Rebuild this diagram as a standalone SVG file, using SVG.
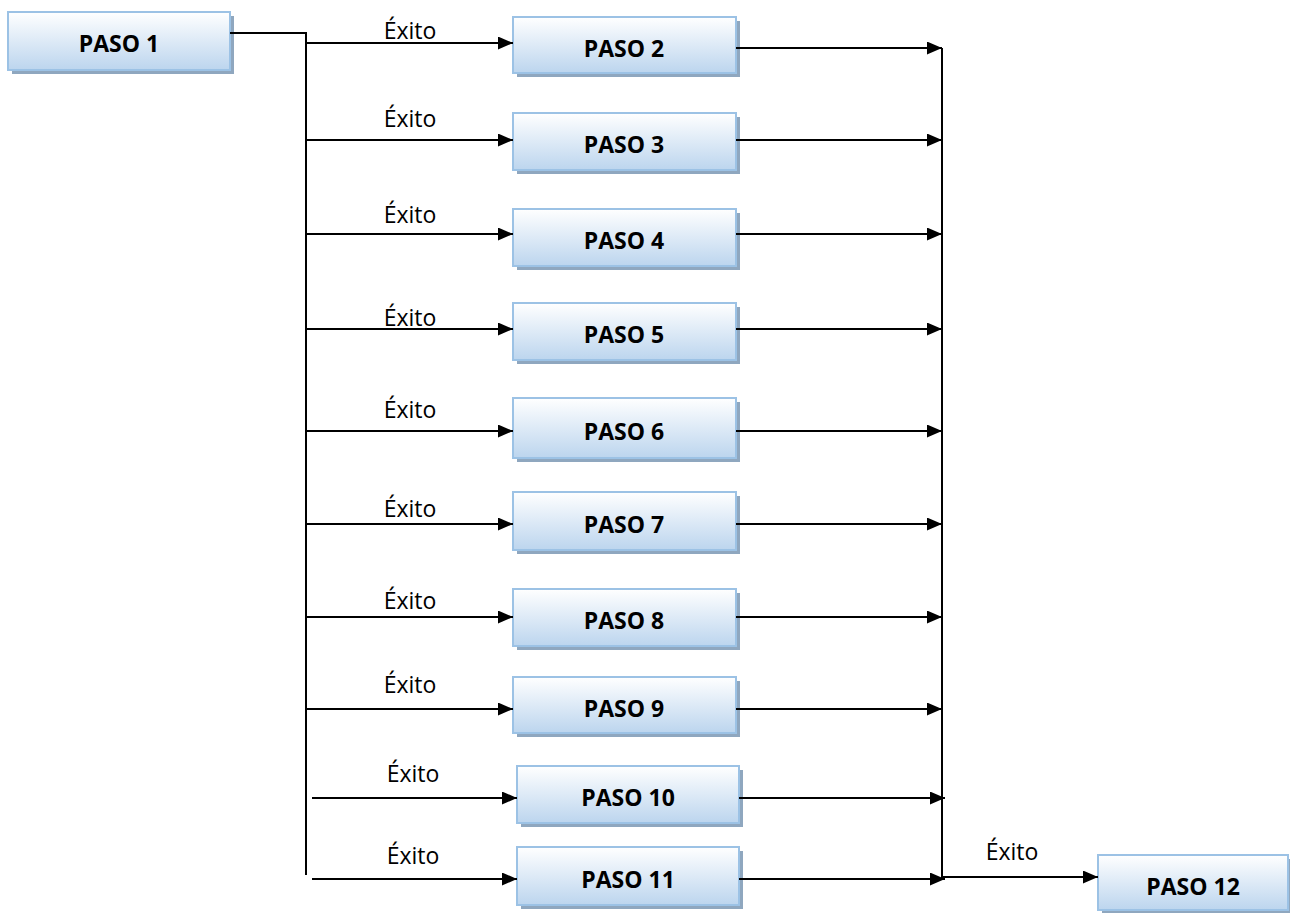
<svg xmlns="http://www.w3.org/2000/svg" width="1290" height="913" viewBox="0 0 1290 913">
<defs>
<linearGradient id="g" x1="0" y1="0" x2="0" y2="1">
<stop offset="0" stop-color="#ffffff"/>
<stop offset="1" stop-color="#bcd5ee"/>
</linearGradient>
<marker id="ah" markerWidth="15" markerHeight="13" refX="15" refY="6.5" orient="auto" markerUnits="userSpaceOnUse">
<path d="M0,0 L15,6.5 L0,13 Z" fill="#000"/>
</marker>
</defs>
<style>
.sh{fill:#8fa7bf}
.bx{fill:url(#g);stroke:#9cc2e5;stroke-width:2}
.t{font-family:"Open Sans",sans-serif;font-weight:bold;font-size:23px;fill:#000;text-anchor:middle}
.l{font-family:"Open Sans",sans-serif;font-size:23px;fill:#000;text-anchor:middle}
.c{fill:none;stroke:#000;stroke-width:2}
.a{fill:none;stroke:#000;stroke-width:2;marker-end:url(#ah)}
</style>
<g id="n1"><rect class="sh" x="12" y="16" width="222" height="58"/><rect class="bx" x="8" y="12" width="222" height="58"/><text class="t" x="119" y="52">PASO 1</text></g>
<g id="n2"><rect class="sh" x="517" y="21" width="223" height="56"/><rect class="bx" x="513" y="17" width="223" height="56"/><text class="t" x="624" y="57">PASO 2</text></g>
<g id="n3"><rect class="sh" x="517" y="117" width="223" height="57"/><rect class="bx" x="513" y="113" width="223" height="57"/><text class="t" x="624" y="153">PASO 3</text></g>
<g id="n4"><rect class="sh" x="517" y="213" width="223" height="57"/><rect class="bx" x="513" y="209" width="223" height="57"/><text class="t" x="624" y="249">PASO 4</text></g>
<g id="n5"><rect class="sh" x="517" y="307" width="223" height="57"/><rect class="bx" x="513" y="303" width="223" height="57"/><text class="t" x="624" y="343">PASO 5</text></g>
<g id="n6"><rect class="sh" x="517" y="402" width="223" height="60"/><rect class="bx" x="513" y="398" width="223" height="60"/><text class="t" x="624" y="440">PASO 6</text></g>
<g id="n7"><rect class="sh" x="517" y="496" width="223" height="58"/><rect class="bx" x="513" y="492" width="223" height="58"/><text class="t" x="624" y="533">PASO 7</text></g>
<g id="n8"><rect class="sh" x="517" y="593" width="223" height="57"/><rect class="bx" x="513" y="589" width="223" height="57"/><text class="t" x="624" y="629">PASO 8</text></g>
<g id="n9"><rect class="sh" x="517" y="681" width="223" height="56"/><rect class="bx" x="513" y="677" width="223" height="56"/><text class="t" x="624" y="717">PASO 9</text></g>
<g id="n10"><rect class="sh" x="521" y="770" width="222" height="57"/><rect class="bx" x="517" y="766" width="222" height="57"/><text class="t" x="628" y="806">PASO 10</text></g>
<g id="n11"><rect class="sh" x="521" y="851" width="222" height="58"/><rect class="bx" x="517" y="847" width="222" height="58"/><text class="t" x="628" y="888">PASO 11</text></g>
<g id="n12"><rect class="sh" x="1102" y="859" width="192" height="56"/><rect class="bx" x="1098" y="855" width="190" height="55"/><text class="t" x="1193" y="895">PASO 12</text></g>
<g id="connectors">
<path class="c" d="M230,33 H306 V875"/>
<path class="a" d="M306,43 H513"/>
<path class="a" d="M306,140 H513"/>
<path class="a" d="M306,234 H513"/>
<path class="a" d="M306,329 H513"/>
<path class="a" d="M306,431 H513"/>
<path class="a" d="M306,524 H513"/>
<path class="a" d="M306,617 H513"/>
<path class="a" d="M306,709 H513"/>
<path class="a" d="M312,798 H517"/>
<path class="a" d="M312,879 H517"/>
<path class="c" d="M942,48 V878"/>
<path class="a" d="M736,48 H942"/>
<path class="a" d="M736,140 H942"/>
<path class="a" d="M736,234 H942"/>
<path class="a" d="M736,329 H942"/>
<path class="a" d="M736,431 H942"/>
<path class="a" d="M736,524 H942"/>
<path class="a" d="M736,617 H942"/>
<path class="a" d="M736,709 H942"/>
<path class="a" d="M739,798 H945"/>
<path class="a" d="M739,879 H945"/>
<path class="a" d="M942,877 H1098"/>
<text class="l" x="410" y="39">Éxito</text>
<text class="l" x="410" y="127">Éxito</text>
<text class="l" x="410" y="223">Éxito</text>
<text class="l" x="410" y="326">Éxito</text>
<text class="l" x="410" y="418">Éxito</text>
<text class="l" x="410" y="517">Éxito</text>
<text class="l" x="410" y="609">Éxito</text>
<text class="l" x="410" y="693">Éxito</text>
<text class="l" x="413" y="782">Éxito</text>
<text class="l" x="413" y="864">Éxito</text>
<text class="l" x="1012" y="860">Éxito</text>
</g>
</svg>
